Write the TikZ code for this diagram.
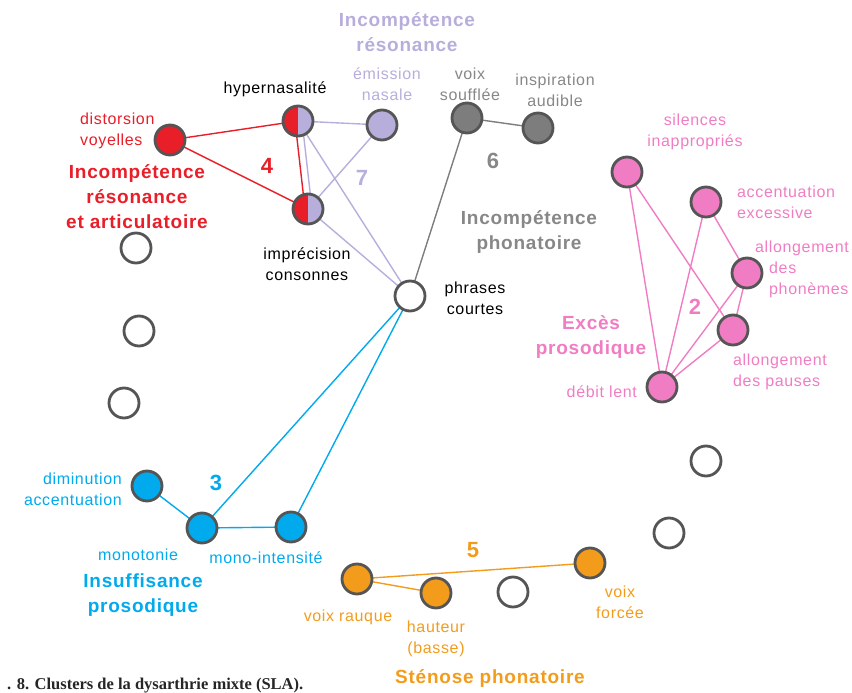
\documentclass[tikz,border=0pt]{standalone}
\usepackage{fontspec}
\setmainfont{Liberation Sans}[LetterSpace=4]
\newfontfamily\capfont{Liberation Serif}
\usetikzlibrary{backgrounds}
\definecolor{cred}{RGB}{232,30,40}
\definecolor{clav}{RGB}{184,174,220}
\definecolor{cgrey}{RGB}{125,125,125}
\definecolor{cgreytxt}{RGB}{135,135,135}
\definecolor{cpink}{RGB}{240,125,195}
\definecolor{cblue}{RGB}{0,170,236}
\definecolor{corange}{RGB}{243,156,28}
\definecolor{cring}{RGB}{85,85,85}
\tikzset{
  nd/.style={circle,minimum size=30pt,inner sep=0pt,line width=2.8pt,draw=cring},
  emptynd/.style={nd,fill=white},
  halfnd/.style={nd,fill=clav,path picture={\fill[cred] (path picture bounding box.north west) rectangle (path picture bounding box.south);}},
  lbl/.style={font=\fontsize{16}{21}\selectfont, align=center, inner sep=0pt},
  ttl/.style={font=\fontsize{19}{25}\selectfont\bfseries, align=center, inner sep=0pt},
  num/.style={font=\fontsize{22}{24}\selectfont\bfseries, inner sep=0pt},
  edge/.style={line width=1.4pt}
}
\begin{document}
\begin{tikzpicture}[x=1pt,y=-1pt]
\useasboundingbox (0,0) rectangle (852,693);
% nodes
\node[nd,fill=cred] (dist) at (170,140) {};
\node[halfnd] (hyp) at (298,121) {};
\node[nd,fill=clav] (emis) at (382,125) {};
\node[halfnd] (impr) at (308,209) {};
\node[nd,fill=cgrey] (souf) at (467,118) {};
\node[nd,fill=cgrey] (insp) at (538,128) {};
\node[emptynd] (phr) at (410,296) {};
\node[emptynd] (e1) at (136,248) {};
\node[emptynd] (e2) at (139,331) {};
\node[emptynd] (e3) at (124,403) {};
\node[nd,fill=cpink] (sil) at (627,172) {};
\node[nd,fill=cpink] (acc) at (706,202) {};
\node[nd,fill=cpink] (aph) at (747,273) {};
\node[nd,fill=cpink] (apa) at (733,330) {};
\node[nd,fill=cpink] (deb) at (662,387) {};
\node[emptynd] (e4) at (706,461) {};
\node[emptynd] (e5) at (669,533) {};
\node[nd,fill=corange] (forc) at (590,563) {};
\node[emptynd] (e6) at (513,592) {};
\node[nd,fill=corange] (haut) at (436,593) {};
\node[nd,fill=corange] (rauq) at (357,579) {};
\node[nd,fill=cblue] (mint) at (291,527) {};
\node[nd,fill=cblue] (mono) at (202,528) {};
\node[nd,fill=cblue] (dimi) at (147,486) {};
% edges
\begin{scope}[on background layer]
\draw[edge,cred] (dist.center) -- (hyp.center);
\draw[edge,cred] (dist.center) -- (impr.center);
\draw[edge,cred] ([xshift=-3pt]hyp.center) -- ([xshift=-3pt]impr.center);
\draw[edge,clav] ([xshift=4pt]hyp.center) -- ([xshift=4pt]impr.center);
\draw[edge,clav] (hyp.center) -- (emis.center);
\draw[edge,clav] (emis.center) -- (impr.center);
\draw[edge,clav] (hyp.center) -- (phr.center);
\draw[edge,clav] (impr.center) -- (phr.center);
\draw[edge,cgrey] (souf.center) -- (insp.center);
\draw[edge,cgrey] (souf.center) -- (phr.center);
\draw[edge,cblue] (phr.center) -- (mono.center);
\draw[edge,cblue] (phr.center) -- (mint.center);
\draw[edge,cblue] (dimi.center) -- (mono.center);
\draw[edge,cblue] (mono.center) -- (mint.center);
\draw[edge,corange] (rauq.center) -- (forc.center);
\draw[edge,corange] (rauq.center) -- (haut.center);
\draw[edge,cpink] (sil.center) -- (deb.center);
\draw[edge,cpink] (sil.center) -- (apa.center);
\draw[edge,cpink] (acc.center) -- (deb.center);
\draw[edge,cpink] (acc.center) -- (aph.center);
\draw[edge,cpink] (aph.center) -- (deb.center);
\draw[edge,cpink] (aph.center) -- (apa.center);
\draw[edge,cpink] (apa.center) -- (deb.center);
\end{scope}
% labels
\node[ttl,clav] (tres) at (407,32) {Incompétence\\résonance};
\node[lbl,clav] (lemis) at (387,84) {émission\\nasale};
\node[lbl,cgreytxt] (lsouf) at (470,84) {voix\\soufflée};
\node[lbl,cgreytxt] (linsp) at (555,90) {inspiration\\audible};
\node[lbl] (lhyp) at (275,89) {hypernasalité};
\node[lbl,cred,anchor=west,align=left] (ldist) at (80,131) {distorsion\\voyelles};
\node[num,cred] (n4) at (267,166) {4};
\node[ttl,cred] (tart) at (137,197) {Incompétence\\résonance\\et articulatoire};
\node[num,clav] (n7) at (362,178) {7};
\node[lbl] (limpr) at (307,264) {imprécision\\consonnes};
\node[num,cgreytxt] (n6) at (493,161) {6};
\node[ttl,cgreytxt] (tpho) at (529,232) {Incompétence\\phonatoire};
\node[lbl] (lphr) at (475,298) {phrases\\courtes};
\node[lbl,cpink] (lsil) at (695,132) {silences\\inappropriés};
\node[lbl,cpink,anchor=west,align=left] (lacc) at (737,202) {accentuation\\excessive};
\node[lbl,cpink,anchor=west] (laph1) at (755,248) {allongement};
\node[lbl,cpink,anchor=west,align=left] (laph2) at (769,280) {des\\phonèmes};
\node[num,cpink] (n2) at (695,307) {2};
\node[lbl,cpink,anchor=west,align=left] (lapa) at (733,372) {allongement\\des pauses};
\node[ttl,cpink] (texc) at (591,337) {Excès\\prosodique};
\node[lbl,cpink,anchor=east] (ldeb) at (637,392) {débit lent};
\node[lbl,cblue,anchor=east,align=right] (ldimi) at (122,489) {diminution\\accentuation};
\node[num,cblue] (n3) at (216,483) {3};
\node[lbl,cblue] (lmono) at (138,555) {monotonie};
\node[lbl,cblue] (lmint) at (266,558) {mono-intensité};
\node[ttl,cblue] (tins) at (143,595) {Insuffisance\\prosodique};
\node[num,corange] (n5) at (473,550) {5};
\node[lbl,corange] (lrauq) at (348,617) {voix rauque};
\node[lbl,corange] (lhaut) at (436,639) {hauteur\\(basse)};
\node[lbl,corange] (lforc) at (620,602) {voix\\forcée};
\node[ttl,corange] (tste) at (490,678) {Sténose phonatoire};
\node[anchor=base west,inner sep=0pt,text=black!85,font=\capfont\bfseries\fontsize{16.5}{18}\selectfont] (cap) at (7,689) {. 8. Clusters de la dysarthrie mixte (SLA).};
\end{tikzpicture}
\end{document}
